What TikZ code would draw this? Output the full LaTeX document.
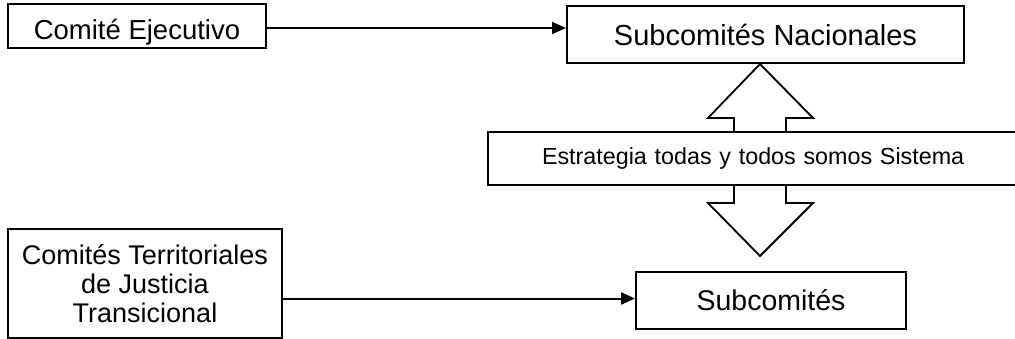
\documentclass[tikz,border=0pt]{standalone}
\usepackage{fontspec}
\setmainfont{Liberation Sans}
\usetikzlibrary{arrows.meta}
\begin{document}
\begin{tikzpicture}[x=1pt,y=-1pt,
  box/.style={draw, line width=2pt, fill=white, inner sep=0pt, align=center},
  conn/.style={line width=2pt, -{Triangle[length=14pt,width=12pt]}},
  blockarrow/.style={draw, line width=1.8pt, fill=white, line join=miter}]
\useasboundingbox (0,0) rectangle (1015,339);
\fill[white] (0,0) rectangle (1015,339);
% double block arrow
\draw[blockarrow] (760,64) -- (813,118) -- (786,118) -- (786,203) -- (813,203) -- (760,256)
  -- (708,203) -- (734,203) -- (734,118) -- (708,118) -- cycle;
\node[box, minimum width=258pt, minimum height=44pt, font=\fontsize{27.5}{30}\selectfont] (ce) at (137,26) {\raisebox{-14pt}[0pt][0pt]{Comité Ejecutivo}};
\node[box, minimum width=397pt, minimum height=57pt, font=\fontsize{29}{32}\selectfont] (sn) at (765.5,34.5) {Subcomités Nacionales};
\node[box, anchor=west, inner xsep=54pt, text width=435pt, align=left, minimum height=53pt, font=\fontsize{23.3}{26}\selectfont] (es) at (487,158.5) {Estrategia todas y todos somos Sistema};
\node[box, minimum width=270pt, minimum height=57pt, font=\fontsize{28.5}{32}\selectfont] (sc) at (771,300.5) {Subcomités};
\node[box, minimum width=274pt, minimum height=109pt, font=\fontsize{27}{29}\selectfont] (ct) at (145,283.5) {Comités Territoriales\\de Justicia\\Transicional};
\coordinate (a1) at ([yshift=-2pt]ce.east);
\draw[conn] (a1) -- (a1 -| sn.west);
\coordinate (a2) at (ct.east |- sc.west);
\draw[conn] ([yshift=2pt]a2) -- ([yshift=2pt]sc.west);
\end{tikzpicture}
\end{document}
